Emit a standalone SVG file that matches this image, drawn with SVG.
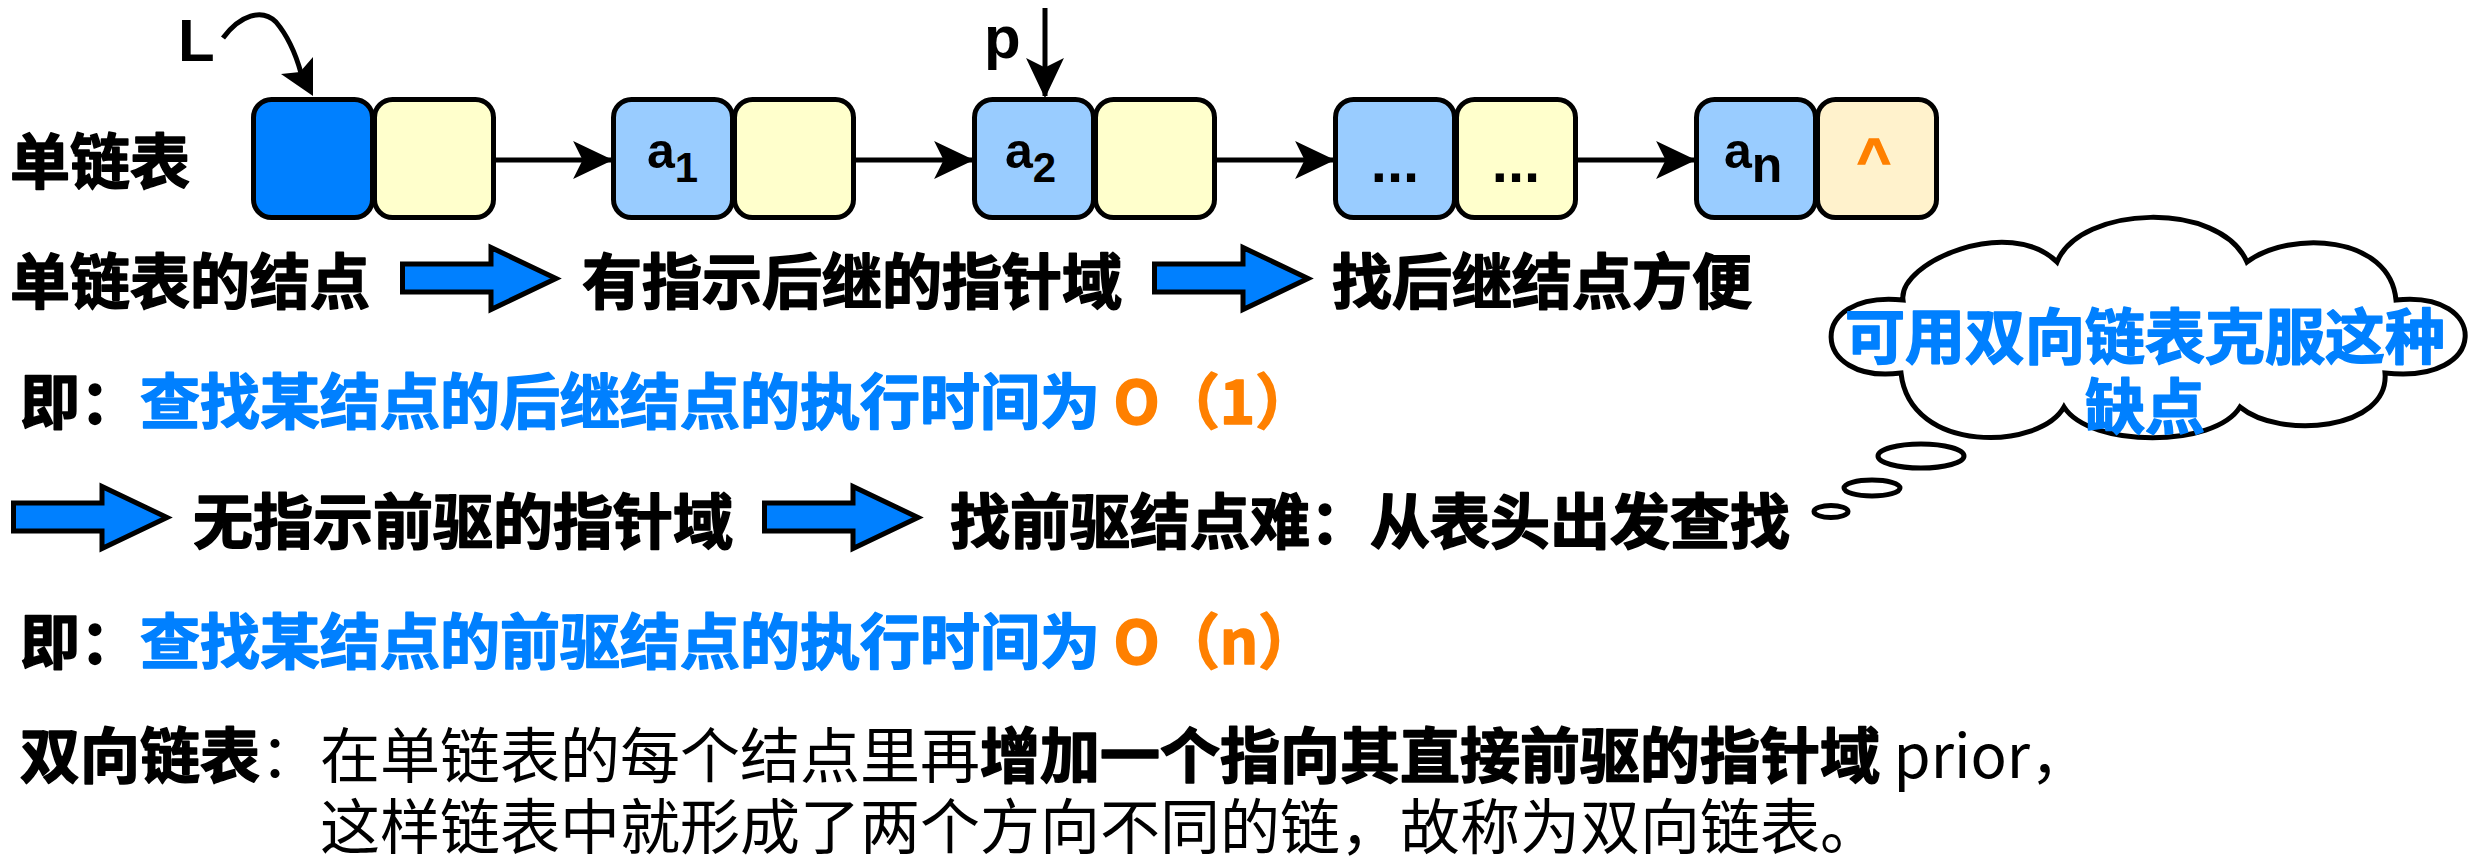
<svg xmlns="http://www.w3.org/2000/svg" width="2486" height="863" viewBox="0 0 2486 863">
<style>
.cjk{font-family:'Noto Sans CJK SC','Noto Sans CJK TC',sans-serif;font-size:60px;stroke-linejoin:round}
.b{font-weight:700;stroke-width:1.6px}
.r{font-weight:400;stroke-width:0}
.blue{fill:#0080FF;stroke:#0080FF}
.org{fill:#FF8000;stroke:#FF8000}
.blk{fill:#000;stroke:#000}
.lat{font-family:'Liberation Sans',Arial,sans-serif;font-weight:700}
.cell{stroke:#000;stroke-width:5}
.conn{stroke:#000;stroke-width:5;fill:none}
.barrow{fill:#0080FF;stroke:#000;stroke-width:5;stroke-linejoin:miter}
.cloud{fill:#fff;stroke:#000;stroke-width:5}
</style>
<defs>
<marker id="ah" markerUnits="userSpaceOnUse" markerWidth="40" markerHeight="40" viewBox="0 0 38 36" refX="36" refY="18" orient="auto">
<path d="M0,0 L38,18 L0,36 L9,18 Z" fill="#000"/>
</marker>
<path id="barrowShape" d="M2.5,19 H91 V2.5 L156,33.5 L91,64.5 V47 H2.5 Z"/>
</defs>

<!-- title -->
<text class="cjk b blk" x="10" y="184">单链表</text>

<!-- nodes -->
<g id="node0">
<rect class="cell" x="253.5" y="99.5" width="119" height="118" rx="18" fill="#0080FF"/>
<rect class="cell" x="374.5" y="99.5" width="119" height="118" rx="18" fill="#FFFFCC"/>
</g>
<g id="node1">
<rect class="cell" x="613.5" y="99.5" width="119" height="118" rx="18" fill="#99CCFF"/>
<rect class="cell" x="734.5" y="99.5" width="119" height="118" rx="18" fill="#FFFFCC"/>
<text class="lat" x="647" y="168" font-size="50">a<tspan font-size="42" y="182">1</tspan></text>
</g>
<g id="node2">
<rect class="cell" x="974.5" y="99.5" width="119" height="118" rx="18" fill="#99CCFF"/>
<rect class="cell" x="1095.5" y="99.5" width="119" height="118" rx="18" fill="#FFFFCC"/>
<text class="lat" x="1005" y="168" font-size="50">a<tspan font-size="42" y="182">2</tspan></text>
</g>
<g id="node3">
<rect class="cell" x="1335.5" y="99.5" width="119" height="118" rx="18" fill="#99CCFF"/>
<rect class="cell" x="1456.5" y="99.5" width="119" height="118" rx="18" fill="#FFFFCC"/>
<text class="lat" x="1395" y="182" font-size="58" text-anchor="middle">...</text>
<text class="lat" x="1516" y="182" font-size="58" text-anchor="middle">...</text>
</g>
<g id="node4">
<rect class="cell" x="1696.5" y="99.5" width="119" height="118" rx="18" fill="#99CCFF"/>
<rect class="cell" x="1817.5" y="99.5" width="119" height="118" rx="18" fill="#FFF2CC"/>
<text class="lat" x="1724" y="168" font-size="50">a<tspan font-size="50" y="182">n</tspan></text>
<text class="lat org" x="1874" y="178" font-size="58" text-anchor="middle" stroke-width="1.5">^</text>
</g>

<g id="label-L"><text class="lat" x="178" y="61" font-size="60">L</text></g>
<g id="label-p"><text class="lat" x="984" y="58" font-size="60">p</text></g>

<!-- connectors -->
<g id="connectors">
<line class="conn" x1="496" y1="160" x2="611" y2="160" marker-end="url(#ah)"/>
<line class="conn" x1="856" y1="160" x2="972" y2="160" marker-end="url(#ah)"/>
<line class="conn" x1="1217" y1="160" x2="1333" y2="160" marker-end="url(#ah)"/>
<line class="conn" x1="1578" y1="160" x2="1694" y2="160" marker-end="url(#ah)"/>
<line class="conn" x1="1045" y1="8" x2="1045" y2="96" marker-end="url(#ah)"/>
<path class="conn" d="M223,38 C240,15 262,8 276,22 C287,35 296,55 301,73"/>
<path d="M313,96 L281,74 L300,72 L313,57 Z" fill="#000"/>
</g>

<!-- row 2 -->
<text class="cjk b blk" x="10" y="304">单链表的结点</text>
<use href="#barrowShape" class="barrow" transform="translate(400,245)"/>
<text class="cjk b blk" x="582" y="304">有指示后继的指针域</text>
<use href="#barrowShape" class="barrow" transform="translate(1152,245)"/>
<text class="cjk b blk" x="1332" y="304">找后继结点方便</text>

<!-- row 3 -->
<text class="cjk b" x="20" y="424"><tspan class="blk">即：</tspan><tspan class="blue">查找某结点的后继结点的执行时间为</tspan><tspan class="org"> O（1）</tspan></text>

<!-- cloud -->
<g id="cloud">
<path class="cloud" d="M1903,300 C1898,262 2010,215 2057,262 C2080,205 2220,200 2247,262 C2290,230 2390,235 2396,300 C2490,290 2490,385 2385,373 C2390,430 2280,440 2240,407 C2215,448 2090,448 2064,407 C2040,450 1910,455 1901,373 C1810,385 1805,290 1903,300 Z"/>
<ellipse class="cloud" cx="1921" cy="456" rx="43" ry="12"/>
<ellipse class="cloud" cx="1872" cy="488" rx="28" ry="8"/>
<ellipse class="cloud" cx="1831" cy="511.5" rx="17" ry="6"/>
<text class="cjk b blue" text-anchor="middle"><tspan x="2145" y="359">可用双向链表克服这种</tspan><tspan x="2145" y="429">缺点</tspan></text>
</g>

<!-- row 4 -->
<use href="#barrowShape" class="barrow" transform="translate(11,484)"/>
<text class="cjk b blk" x="193" y="544">无指示前驱的指针域</text>
<use href="#barrowShape" class="barrow" transform="translate(762,484)"/>
<text class="cjk b blk" x="950" y="544">找前驱结点难：从表头出发查找</text>

<!-- row 5 -->
<text class="cjk b" x="20" y="664"><tspan class="blk">即：</tspan><tspan class="blue">查找某结点的前驱结点的执行时间为</tspan><tspan class="org"> O（n）</tspan></text>

<!-- row 6 -->
<text class="cjk blk" x="20" y="778"><tspan class="b">双向链表</tspan><tspan class="r">：在单链表的每个结点里再</tspan><tspan class="b">增加一个指向其直接前驱的指针域</tspan><tspan class="r"> prior，</tspan><tspan class="r" x="320" y="849">这样链表中就形成了两个方向不同的链，故称为双向链表。</tspan></text>
</svg>
